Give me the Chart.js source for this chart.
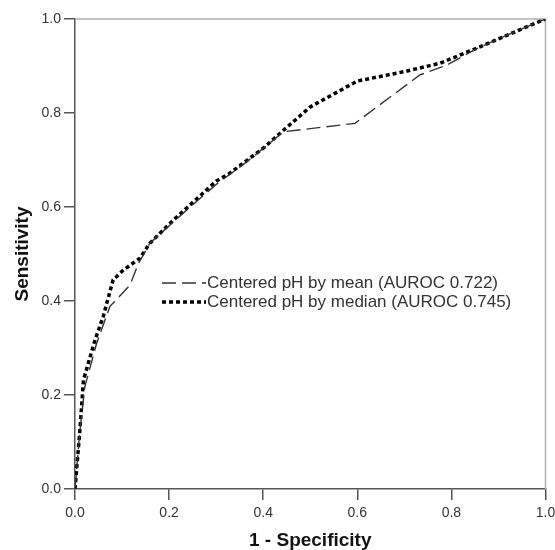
<!DOCTYPE html>
<html>
<head>
<meta charset="utf-8">
<script src="https://cdn.jsdelivr.net/npm/chart.js@4.4.1/dist/chart.umd.min.js"></script>
<style>
html,body{margin:0;padding:0;background:#fff;}
#wrap{width:555px;height:550px;position:relative;}
</style>
</head>
<body>
<div id="wrap"><canvas id="c" width="555" height="550"></canvas></div>
<script>
// Data
const meanLabel = "Centered pH by mean (AUROC 0.722)";
const medianLabel = "Centered pH by median (AUROC 0.745)";
const meanFpr = [0, 0.01, 0.021, 0.046, 0.074, 0.117, 0.135, 0.159, 0.23, 0.30, 0.365, 0.443, 0.595, 0.733, 0.79, 0.85, 0.90, 1];
const meanTpr = [0, 0.12, 0.218, 0.31, 0.388, 0.434, 0.48, 0.523, 0.587, 0.648, 0.696, 0.760, 0.778, 0.881, 0.902, 0.935, 0.958, 1];
const medianFpr = [0, 0.01, 0.018, 0.0425, 0.06, 0.081, 0.103, 0.138, 0.159, 0.209, 0.30, 0.329, 0.40, 0.436, 0.5, 0.60, 0.70, 0.776, 0.854, 0.903, 1];
const medianTpr = [0, 0.12, 0.232, 0.317, 0.367, 0.445, 0.466, 0.491, 0.523, 0.572, 0.655, 0.672, 0.725, 0.757, 0.813, 0.868, 0.888, 0.906, 0.938, 0.959, 1];
const xTitle = "1 - Specificity";
const yTitle = "Sensitivity";

const toPts = (xs, ys) => xs.map((x, i) => ({x: x, y: ys[i]}));

const FONT = "'Liberation Sans', Arial, sans-serif";

const framePlugin = {
  id: 'frame',
  beforeDatasetsDraw(chart) {
    const {ctx, chartArea: a} = chart;
    ctx.save();
    ctx.strokeStyle = '#b0b0b0';
    ctx.lineWidth = 1.5;
    ctx.beginPath();
    ctx.moveTo(a.left, a.top);
    ctx.lineTo(a.right, a.top);
    ctx.lineTo(a.right, a.bottom);
    ctx.stroke();
    ctx.restore();
  }
};

const legendPlugin = {
  id: 'innerLegend',
  afterDatasetsDraw(chart) {
    const {ctx} = chart;
    const x0 = 162, x1 = 206, tx = 207;
    const rows = [283, 302];
    ctx.save();
    chart.data.datasets.forEach((ds, i) => {
      const y = rows[i];
      ctx.strokeStyle = ds.borderColor;
      ctx.lineWidth = ds.borderWidth;
      ctx.setLineDash(ds.borderDash || []);
      ctx.lineCap = 'butt';
      ctx.beginPath();
      ctx.moveTo(x0, y);
      ctx.lineTo(x1, y);
      ctx.stroke();
      ctx.setLineDash([]);
      ctx.fillStyle = '#333';
      ctx.font = '17px ' + FONT;
      ctx.textBaseline = 'middle';
      ctx.textAlign = 'left';
      ctx.fillText(ds.label, tx, y);
    });
    ctx.restore();
  }
};

new Chart(document.getElementById('c'), {
  type: 'line',
  data: {
    datasets: [
      {
        label: meanLabel,
        data: toPts(meanFpr, meanTpr),
        borderColor: '#333',
        borderWidth: 1.4,
        borderDash: [14, 6],
        pointRadius: 0,
        fill: false,
        tension: 0
      },
      {
        label: medianLabel,
        data: toPts(medianFpr, medianTpr),
        borderColor: '#000',
        borderWidth: 3.5,
        borderDash: [4, 3],
        pointRadius: 0,
        fill: false,
        tension: 0
      }
    ]
  },
  options: {
    responsive: false,
    animation: false,
    layout: {padding: {top: 19, right: 0, left: 0, bottom: 0}},
    plugins: {legend: {display: false}, tooltip: {enabled: false}},
    scales: {
      x: {
        type: 'linear', min: 0, max: 1,
        afterFit(s) { s.height = 61; s.paddingRight = 9.5; },
        ticks: {stepSize: 0.2, padding: 5, color: '#333', font: {family: FONT, size: 14},
                callback: v => v.toFixed(1), maxRotation: 0},
        grid: {drawOnChartArea: false, drawTicks: true, tickLength: 11, color: '#555', lineWidth: 1.5},
        border: {color: '#555', width: 1.5},
        title: {display: true, text: xTitle, color: '#111', font: {family: FONT, size: 19, weight: 'bold', lineHeight: 1.0}, padding: {top: 4, bottom: 0}}
      },
      y: {
        type: 'linear', min: 0, max: 1,
        afterFit(s) { s.width = 75; },
        ticks: {stepSize: 0.2, padding: 3, color: '#333', font: {family: FONT, size: 14},
                callback: v => v.toFixed(1)},
        grid: {drawOnChartArea: false, drawTicks: true, tickLength: 11, color: '#555', lineWidth: 1.5},
        border: {color: '#555', width: 1.5},
        title: {display: true, text: yTitle, color: '#111', font: {family: FONT, size: 19, weight: 'bold', lineHeight: 1.0}, padding: {top: 13, bottom: 0}}
      }
    }
  },
  plugins: [framePlugin, legendPlugin]
});
</script>
</body>
</html>
